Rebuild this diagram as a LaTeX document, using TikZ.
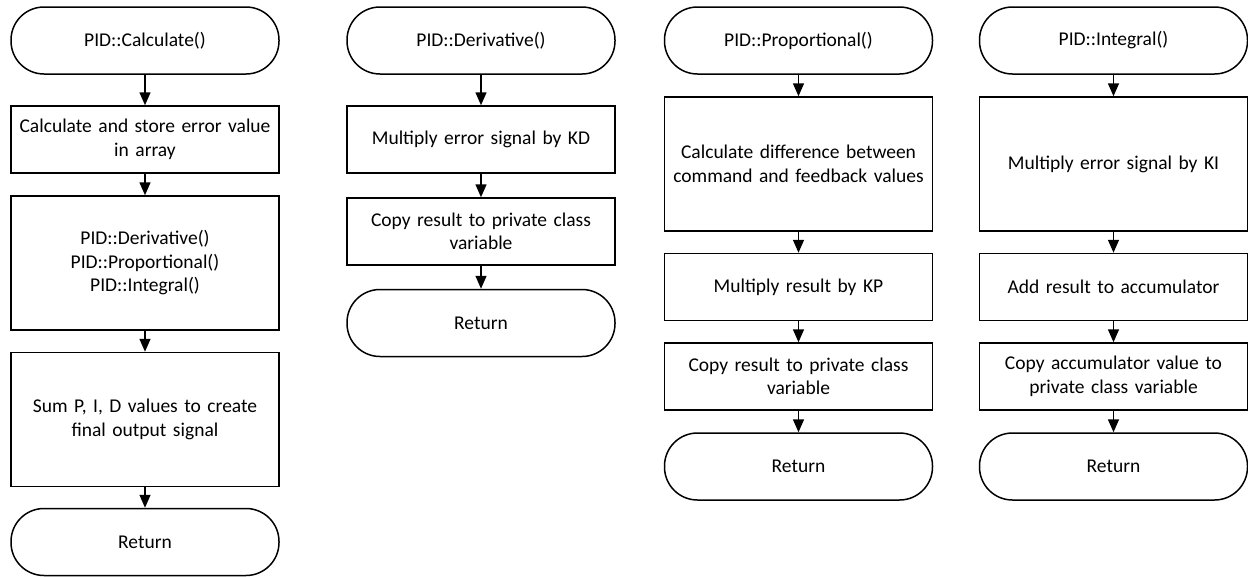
\documentclass[tikz,border=0pt]{standalone}
\usepackage{fontspec}
\setmainfont{Carlito}
\usepackage{tikz}
\usetikzlibrary{arrows.meta}
\tikzstyle{term}=[draw,line width=1.5pt,rounded corners=33pt,minimum width=268pt,minimum height=67pt]
\tikzstyle{proc}=[draw,line width=1.5pt,minimum width=268pt,minimum height=67pt,text width=252pt,align=center]
\tikzstyle{tall}=[proc,minimum height=134pt]
\tikzstyle{flow}=[line width=1.5pt,-{Triangle[length=13pt,width=11pt]}]
\newcommand\fl{\fontsize{19.5pt}{23.5pt}\selectfont}

\begin{document}
\begin{tikzpicture}[x=1pt,y=-1pt,font=\fl]
	\useasboundingbox (0,0) rectangle (1248,576);
	% PID::Calculate()
	\node[term] (calc)    at (145,40.5)  {PID::Calculate()};
	\node[proc] (calcErr) at (145,139.5) {Calculate and store error value\\in array};
	\node[tall] (calcRun) at (145,263)   {PID::Derivative()\\PID::Proportional()\\PID::Integral()};
	\node[tall] (calcSum) at (145,419.5) {Sum P, I, D values to create\\final output signal};
	\node[term] (calcRet) at (145,542)   {Return};
	% PID::Derivative()
	\node[term] (der)     at (481,40.5)  {PID::Derivative()};
	\node[proc] (derMul)  at (481,139.5) {Multiply error signal by KD};
	\node[proc] (derCopy) at (481,231.5) {Copy result to private class\\variable};
	\node[term] (derRet)  at (481,323)   {Return};
	% PID::Proportional()
	\node[term] (prop)     at (798.5,40.5)  {PID::Proportional()};
	\node[tall] (propDiff) at (798.5,164)   {Calculate difference between\\command and feedback values};
	\node[proc] (propMul)  at (798.5,287)   {Multiply result by KP};
	\node[proc] (propCopy) at (798.5,376.5) {Copy result to private class\\variable};
	\node[term] (propRet)  at (798.5,466.5) {Return};
	% PID::Integral()
	\node[term] (integ)     at (1113.5,40.5)  {PID::Integral()};
	\node[tall] (integMul)  at (1113.5,164)   {Multiply error signal by KI};
	\node[proc] (integAdd)  at (1113.5,287)   {Add result to accumulator};
	\node[proc] (integCopy) at (1113.5,376.5) {Copy accumulator value to\\private class variable};
	\node[term] (integRet)  at (1113.5,466.5) {Return};

	\draw[flow] (calc) -- (calcErr);
	\draw[flow] (calcErr) -- (calcRun);
	\draw[flow] (calcRun) -- (calcSum);
	\draw[flow] (calcSum) -- (calcRet);
	\draw[flow] (der) -- (derMul);
	\draw[flow] (derMul) -- (derCopy);
	\draw[flow] (derCopy) -- (derRet);
	\draw[flow] (prop) -- (propDiff);
	\draw[flow] (propDiff) -- (propMul);
	\draw[flow] (propMul) -- (propCopy);
	\draw[flow] (propCopy) -- (propRet);
	\draw[flow] (integ) -- (integMul);
	\draw[flow] (integMul) -- (integAdd);
	\draw[flow] (integAdd) -- (integCopy);
	\draw[flow] (integCopy) -- (integRet);
\end{tikzpicture}
\end{document}
